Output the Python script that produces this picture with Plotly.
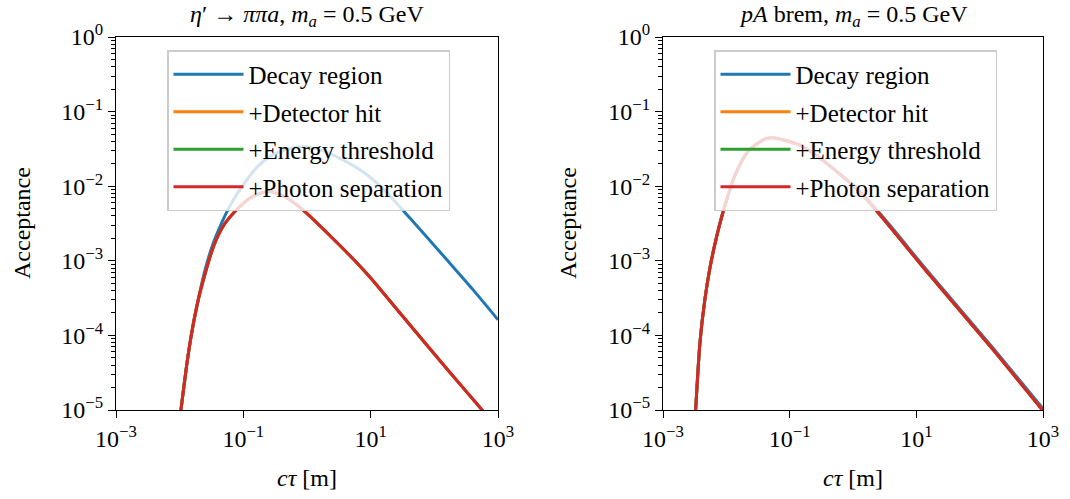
import plotly.graph_objects as go

# ---------------- data (log10 values) ----------------
series_names = ["Decay region", "+Detector hit", "+Energy threshold", "+Photon separation"]
series_colors = ["#1f77b4", "#ff7f0e", "#2ca02c", "#d62728"]

# Left panel: eta' -> pi pi a
left_cut_log_ctau = [-2.04, -1.98, -1.89, -1.81, -1.71, -1.60, -1.47, -1.32, -1.11, -0.90,
                     -0.72, -0.58, -0.35, -0.06, 0.31, 0.73, 1.0, 1.5, 2.0, 2.5, 2.8, 3.0]
left_cut_log_acc = [-5.4, -5.0, -4.40, -3.96, -3.53, -3.17, -2.81, -2.54, -2.32, -2.16,
                    -2.09, -2.07, -2.14, -2.32, -2.62, -2.98, -3.23, -3.74, -4.25, -4.75, -5.05, -5.25]
left_decay_log_ctau = [-2.04, -1.98, -1.89, -1.81, -1.71, -1.61, -1.48, -1.34, -1.22, -1.08,
                       -0.95, -0.78, -0.58, -0.3, -0.06, 0.2, 0.57, 0.9, 1.2, 1.62, 2.19, 2.6, 3.0]
left_decay_log_acc = [-5.4, -5.0, -4.40, -3.96, -3.53, -3.15, -2.78, -2.49, -2.28, -2.08,
                      -1.92, -1.74, -1.60, -1.50, -1.47, -1.51, -1.65, -1.82, -2.04, -2.43,
                      -2.98, -3.38, -3.79]

# Right panel: pA brem
right_cut_log_ctau = [-2.52, -2.485, -2.417, -2.339, -2.26, -2.154, -2.05, -1.866, -1.657,
                      -1.394, -1.27, -0.84, -0.45, 0.1, 0.53, 1.16, 2.2, 3.0]
right_cut_log_acc = [-5.5, -5.0, -4.1, -3.52, -3.10, -2.68, -2.34, -1.86, -1.53,
                     -1.37, -1.35, -1.45, -1.67, -2.07, -2.49, -3.14, -4.18, -5.01]
right_decay_log_ctau = [-2.52, -2.485, -2.417, -2.339, -2.26, -2.154, -2.05, -1.866, -1.657,
                        -1.394, -1.27, -0.84, -0.45, 0.1, 0.53, 1.16, 2.2, 3.0]
right_decay_log_acc = [-5.5, -5.0, -4.1, -3.52, -3.10, -2.68, -2.34, -1.86, -1.53,
                       -1.37, -1.35, -1.45, -1.67, -2.06, -2.47, -3.12, -4.16, -4.98]

panel_titles = ["<i>η</i>′ → <i>ππa</i>, <i>m<sub>a</sub></i> = 0.5 GeV",
                "<i>pA</i> brem, <i>m<sub>a</sub></i> = 0.5 GeV"]
x_title = "<i>cτ</i> [m]"
y_title = "Acceptance"

x_tick_vals = [1e-3, 1e-1, 1e1, 1e3]
x_tick_text = ["10<sup>−3</sup>", "10<sup>−1</sup>", "10<sup>1</sup>", "10<sup>3</sup>"]
y_tick_vals = [1e-5, 1e-4, 1e-3, 1e-2, 1e-1, 1e0]
y_tick_text = ["10<sup>−5</sup>", "10<sup>−4</sup>", "10<sup>−3</sup>",
               "10<sup>−2</sup>", "10<sup>−1</sup>", "10<sup>0</sup>"]
y_minor_vals = [m * 10.0 ** e for e in range(-5, 0) for m in range(2, 10)]

# ---------------- figure ----------------
FONT = "Liberation Serif"
FS = 24
W, H = 1070, 499
fig = go.Figure()


def tolin(v):
    return [10 ** a for a in v]


panels = [
    ("x", "y", "legend", left_decay_log_ctau, left_decay_log_acc, left_cut_log_ctau, left_cut_log_acc),
    ("x2", "y2", "legend2", right_decay_log_ctau, right_decay_log_acc, right_cut_log_ctau, right_cut_log_acc),
]
for xa, ya, lg, dx, dy, cx, cy in panels:
    for i, (name, col) in enumerate(zip(series_names, series_colors)):
        xs, ys = (dx, dy) if i == 0 else (cx, cy)
        fig.add_trace(go.Scatter(
            x=tolin(xs), y=tolin(ys), mode="lines", name=name,
            line=dict(color=col, width=3, shape="spline", smoothing=0.7),
            xaxis=xa, yaxis=ya, legend=lg, legendgroup=lg + str(i),
        ))

x_domains = [[116 / W, 498 / W], [663 / W, 1043 / W]]
y_domain = [1 - 410 / H, 1 - 37 / H]


def xaxis(dom, anchor):
    return dict(type="log", range=[-3, 3], domain=dom, anchor=anchor, automargin=False,
                tickvals=x_tick_vals, ticktext=x_tick_text, ticks="outside",
                ticklen=7, tickwidth=1.2, tickcolor="black", showline=True,
                linecolor="black", linewidth=1.2, mirror=True, showgrid=False,
                zeroline=False, tickfont=dict(family=FONT, size=FS, color="black"))


def yaxis(anchor):
    return dict(type="log", range=[-5, 0], domain=y_domain, anchor=anchor, automargin=False,
                tickvals=y_tick_vals, ticktext=y_tick_text, ticks="outside",
                ticklen=7, tickwidth=1.2, tickcolor="black", showline=True,
                linecolor="black", linewidth=1.2, mirror=True, showgrid=False,
                zeroline=False, tickfont=dict(family=FONT, size=FS, color="black"),
                minor=dict(tickvals=y_minor_vals, ticks="outside", ticklen=4,
                           tickwidth=0.9, tickcolor="black", showgrid=False))


legend_common = dict(
    bgcolor="rgba(255,255,255,0.8)", bordercolor="#cccccc", borderwidth=1.5,
    font=dict(family=FONT, size=25, color="black"), xanchor="left", yanchor="top",
    tracegroupgap=2, itemwidth=70,
)

ann = []
for k, (dom, t) in enumerate(zip(x_domains, panel_titles)):
    cx = (dom[0] + dom[1]) / 2
    ann.append(dict(text=t, x=cx, y=1 - 16 / H, xref="paper", yref="paper",
                    showarrow=False, font=dict(family=FONT, size=FS, color="black"),
                    xanchor="center", yanchor="middle"))
    ann.append(dict(text=x_title, x=cx, y=1 - 478 / H, xref="paper", yref="paper",
                    showarrow=False, font=dict(family=FONT, size=FS, color="black"),
                    xanchor="center", yanchor="middle"))
for xpix in [22, 568]:
    ann.append(dict(text=y_title, x=xpix / W, y=1 - 223 / H, xref="paper", yref="paper",
                    showarrow=False, textangle=-90,
                    font=dict(family=FONT, size=FS, color="black"),
                    xanchor="center", yanchor="middle"))

fig.update_layout(
    width=W, height=H, margin=dict(l=0, r=0, t=0, b=0, autoexpand=False),
    plot_bgcolor="white", paper_bgcolor="white",
    xaxis=xaxis(x_domains[0], "y"), yaxis=yaxis("x"),
    xaxis2=xaxis(x_domains[1], "y2"), yaxis2=yaxis("x2"),
    legend=dict(x=167 / W, y=1 - 50 / H, **legend_common),
    legend2=dict(x=714 / W, y=1 - 50 / H, **legend_common),
    annotations=ann, showlegend=True,
)

fig.write_html("out.html")
